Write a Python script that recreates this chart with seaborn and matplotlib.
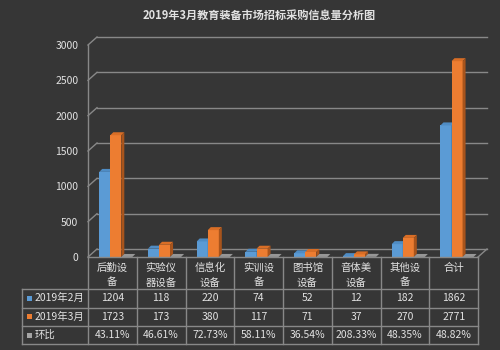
import numpy as np
import pandas as pd
import matplotlib
matplotlib.use("Agg")
import matplotlib.pyplot as plt
import matplotlib.transforms as mtransforms
from matplotlib.patches import Polygon, Rectangle
import seaborn as sns

BG     = "#363636"
GRID   = "#888888"
TXT    = "#e2e2e2"

# ---- 数据 ----
categories = ["后勤设备", "实验仪器设备", "信息化设备", "实训设备",
              "图书馆设备", "音体美设备", "其他设备", "合计"]
cat_labels = ["后勤设\n备", "实验仪\n器设备", "信息化\n设备", "实训设\n备",
              "图书馆\n设备", "音体美\n设备", "其他设\n备", "合计"]
series     = ["2019年2月", "2019年3月", "环比"]
feb        = [1204, 118, 220, 74, 52, 12, 182, 1862]
mar        = [1723, 173, 380, 117, 71, 37, 270, 2771]
mom_pct    = [43.11, 46.61, 72.73, 58.11, 36.54, 208.33, 48.35, 48.82]
yticks     = [0, 500, 1000, 1500, 2000, 2500, 3000]

colors = ["#5B9BD5", "#ED7D31", "#A5A5A5"]
tops   = ["#4f8cc4", "#d96e26", "#969696"]
sides  = ["#3c6f9e", "#a8541c", "#737373"]

df = pd.DataFrame({
    "cat": categories * 3,
    "series": [series[0]] * 8 + [series[1]] * 8 + [series[2]] * 8,
    "value": feb + mar + [v / 100 for v in mom_pct],
})

plt.rcParams["font.family"] = ["Noto Sans CJK SC", "DejaVu Sans"]

W, H = 500, 350
fig = plt.figure(figsize=(5, 3.5), dpi=100, facecolor=BG)

# 坐标区：前平面 0 在 y=257，3000 在 y=45
x0, x1 = 88, 478
y0, y1 = 257, 45
ax = fig.add_axes([x0 / W, (H - y0) / H, (x1 - x0) / W, (y0 - y1) / H])
ax.patch.set_visible(False)

sns.barplot(data=df, x="cat", y="value", hue="series", hue_order=series,
            order=categories, palette=colors, width=0.68, saturation=1,
            legend=False, ax=ax, errorbar=None)
ax.set_xlim(-0.57, 7.43)
ax.set_ylim(0, 3000)
ax.set_xticks([])
ax.set_yticks(yticks)
ax.set_xlabel("")
ax.set_ylabel("")
ax.tick_params(axis="y", length=0, pad=7, labelcolor=TXT, labelsize=7.5)
for sp in ax.spines.values():
    sp.set_visible(False)

# 背墙网格线（3D 偏移）
ident = mtransforms.IdentityTransform()
ytr = ax.get_yaxis_transform()
back = mtransforms.offset_copy(ytr, fig=fig, x=9, y=8, units="dots")
for v in yticks:
    ax.plot([0, 1], [v, v], transform=back, color=GRID, lw=1, zorder=1,
            clip_on=False)
    p0 = ytr.transform((0, v))
    p1 = back.transform((0, v))
    fig.add_artist(plt.Line2D([p0[0], p1[0]], [p0[1], p1[1]], color=GRID,
                              lw=1, transform=ident))
ax.plot([0, 0], [0, 3000], transform=ytr, color=GRID, lw=1, clip_on=False,
        zorder=1)
q0 = ytr.transform((1, 0))
q1 = back.transform((1, 0))
fig.add_artist(plt.Line2D([q0[0], q1[0]], [q0[1], q1[1]], color=GRID, lw=1,
                          transform=ident))

# 柱子 3D 顶面与侧面
d = 3
for k, cont in enumerate(ax.containers):
    for bar in cont:
        bar.set_zorder(3 + 2 * k)
        bb = bar.get_window_extent()
        bx0, by0, bx1, by1 = bb.x0, bb.y0, bb.x1, bb.y1
        top = Polygon([(bx0, by1), (bx1, by1), (bx1 + d, by1 + d),
                       (bx0 + d, by1 + d)], closed=True, facecolor=tops[k],
                      edgecolor="none", transform=ident, zorder=4 + 2 * k,
                      clip_on=False)
        side = Polygon([(bx1, by0), (bx1 + d, by0 + d), (bx1 + d, by1 + d),
                        (bx1, by1)], closed=True, facecolor=sides[k],
                       edgecolor="none", transform=ident, zorder=4 + 2 * k,
                       clip_on=False)
        ax.add_patch(top)
        ax.add_patch(side)

# 标题
fig.text(259 / W, 1 - 15 / H, "2019年3月教育装备市场招标采购信息量分析图",
         ha="center", va="center", color=TXT, fontsize=8, fontweight="bold")

# 数据表
tab = fig.add_axes([0, 0, 1, 1])
tab.set_xlim(0, W)
tab.set_ylim(H, 0)
tab.axis("off")
tab.patch.set_visible(False)

col_w = (x1 - x0) / len(categories)
row_y = [257, 289, 307.5, 326, 344]
left = 22
for i, y in enumerate(row_y):
    tab.plot([x0 if i == 0 else left, x1], [y, y], color=GRID, lw=1)
tab.plot([left, left], [row_y[1], row_y[-1]], color=GRID, lw=1)
for j in range(len(categories) + 1):
    xx = x0 + j * col_w
    tab.plot([xx, xx], [row_y[0], row_y[-1]], color=GRID, lw=1)

for j, lab in enumerate(cat_labels):
    cx = x0 + (j + 0.5) * col_w
    lines = lab.split("\n")
    for li, s in enumerate(lines):
        tab.text(cx, 268 + 14.5 * li, s, ha="center", va="center", color=TXT,
                 fontsize=7.5)

rows = [[str(v) for v in feb], [str(v) for v in mar],
        [f"{v:.2f}%" for v in mom_pct]]
for r, (name, vals) in enumerate(zip(series, rows)):
    cy = (row_y[r + 1] + row_y[r + 2]) / 2
    tab.add_patch(Rectangle((26.5, cy - 2.5), 5, 5, facecolor=colors[r],
                            edgecolor="none"))
    tab.text(35, cy, name, ha="left", va="center", color=TXT, fontsize=7.5)
    for j, s in enumerate(vals):
        tab.text(x0 + (j + 0.5) * col_w, cy, s, ha="center", va="center",
                 color=TXT, fontsize=7.5)

fig.savefig("out.png", dpi=100, facecolor=BG)
